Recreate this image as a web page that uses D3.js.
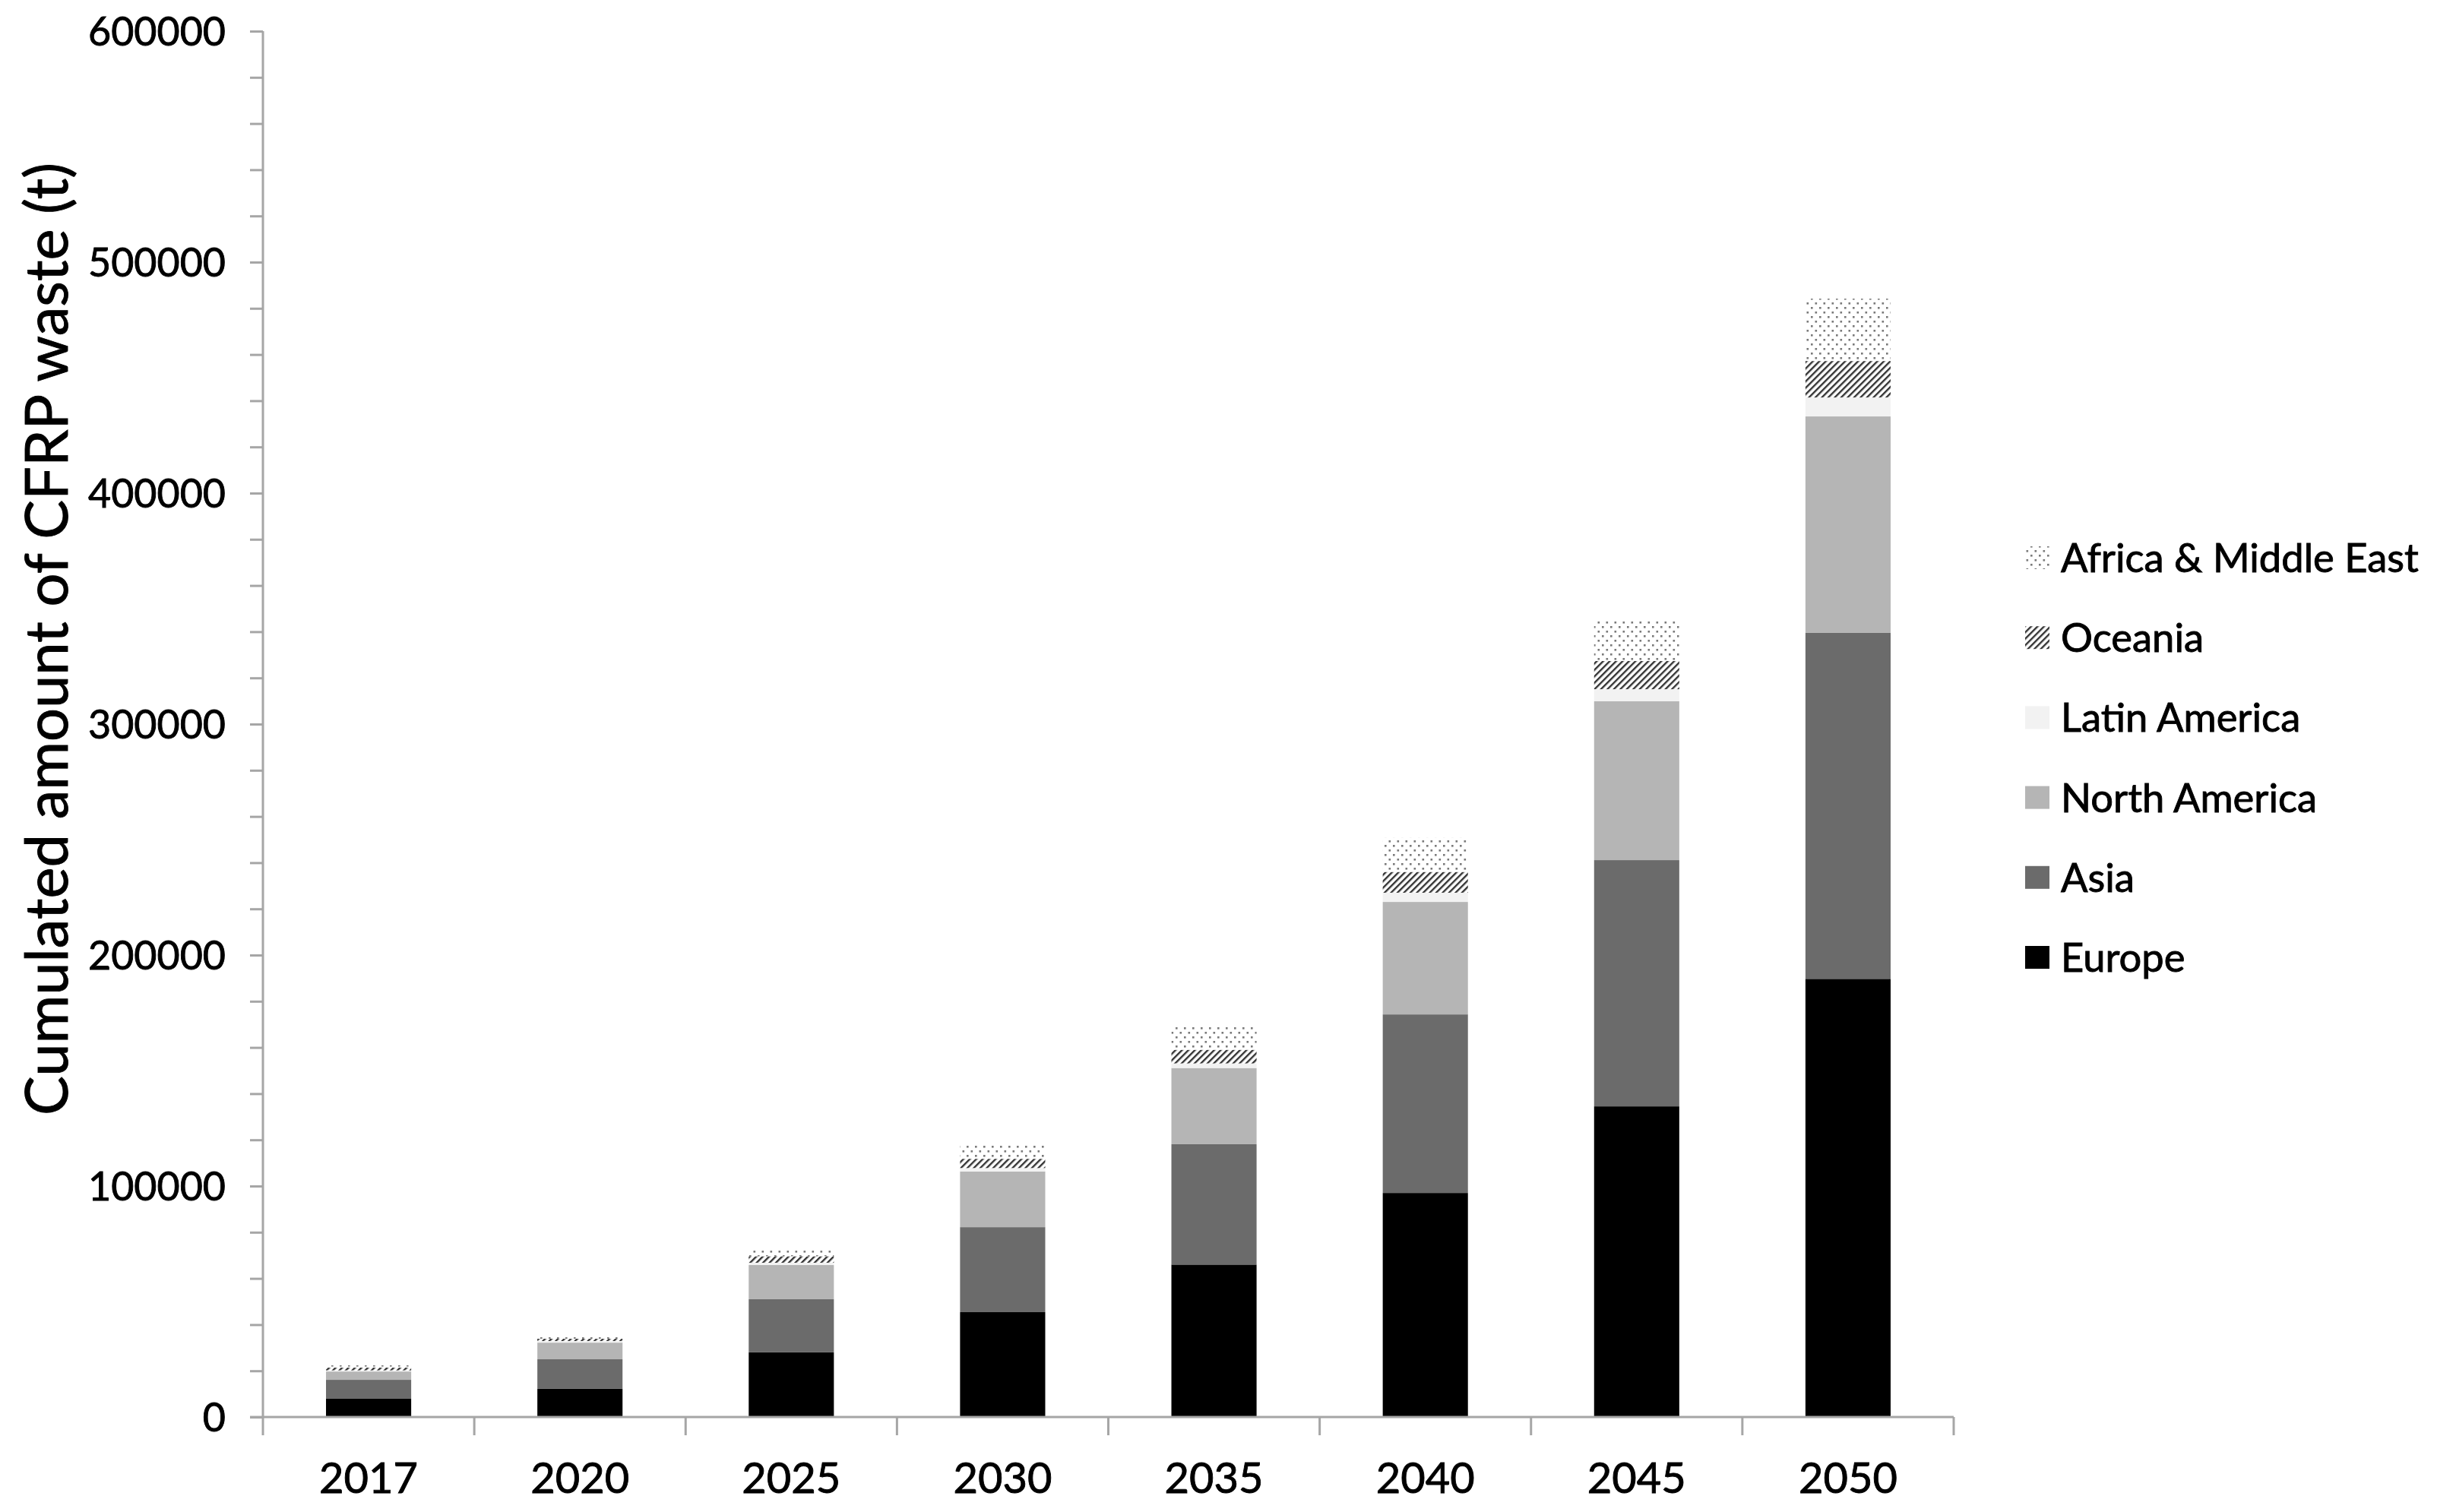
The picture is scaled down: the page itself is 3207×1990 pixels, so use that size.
<!DOCTYPE html>
<html>
<head>
<meta charset="utf-8">
<script src="https://cdn.jsdelivr.net/npm/d3@7"></script>
<style>
  html, body { margin: 0; padding: 0; background: #fff; }
  svg { display: block; font-family: Lato, "Open Sans", sans-serif; }
  svg text { stroke: #000; stroke-width: 0.9px; }
</style>
</head>
<body>
<svg id="chart" width="3207" height="1990"></svg>
<script>
// ---- data ----
const years = ["2017", "2020", "2025", "2030", "2035", "2040", "2045", "2050"];
const regions = ["Europe", "Asia", "North America", "Latin America", "Oceania", "Africa & Middle East"];
const europe       = [7900, 12200, 28000, 45400, 66000, 97000, 134500, 189700];
const asia         = [8200, 12800, 23000, 36800, 52100, 77300, 106600, 149800];
const northAmerica = [3600, 7200, 14800, 24100, 33000, 48700, 68800, 93700];
const latinAmerica = [500, 700, 1000, 1500, 2000, 4000, 5200, 8200];
const oceania      = [1200, 1000, 2800, 4000, 5900, 9000, 12200, 15800];
const africaME     = [1000, 1500, 2800, 6000, 9800, 14700, 17400, 27000];
const yTicks = [0, 100000, 200000, 300000, 400000, 500000, 600000];
const yTitle = "Cumulated amount of CFRP waste (t)";

const seriesValues = [europe, asia, northAmerica, latinAmerica, oceania, africaME];
const rows = years.map((y, i) => {
  const r = { year: y };
  regions.forEach((k, j) => r[k] = seriesValues[j][i]);
  return r;
});

// ---- layout ----
const svg = d3.select("#chart");
const x0 = 346, x1 = 2571, yTop = 41, yBase = 1865;
const x = d3.scaleBand().domain(years).range([x0, x1]).paddingInner(0).paddingOuter(0);
const y = d3.scaleLinear().domain([0, 600000]).range([yBase, yTop]);
const barW = x.bandwidth() * 0.403;

// patterns
const defs = svg.append("defs");
const hatch = defs.append("pattern").attr("id", "hatch")
  .attr("patternUnits", "userSpaceOnUse").attr("width", 6).attr("height", 6)
  .attr("patternTransform", "rotate(45)");
hatch.append("rect").attr("width", 6).attr("height", 6).attr("fill", "#fff");
hatch.append("rect").attr("x", 0).attr("y", 0).attr("width", 2.4).attr("height", 6).attr("fill", "#333");

const dots = defs.append("pattern").attr("id", "dots")
  .attr("patternUnits", "userSpaceOnUse").attr("width", 11).attr("height", 12);
dots.append("rect").attr("width", 11).attr("height", 12).attr("fill", "#fff");
dots.append("rect").attr("x", 1.5).attr("y", 2).attr("width", 2.6).attr("height", 2.6).attr("fill", "#7a7a7a");
dots.append("rect").attr("x", 7).attr("y", 8).attr("width", 2.6).attr("height", 2.6).attr("fill", "#7a7a7a");

const fills = {
  "Europe": "#000000",
  "Asia": "#6b6b6b",
  "North America": "#b5b5b5",
  "Latin America": "#f2f2f2",
  "Oceania": "url(#hatch)",
  "Africa & Middle East": "url(#dots)"
};

// bars
const stack = d3.stack().keys(regions)(rows);
svg.append("g").selectAll("g").data(stack).join("g")
  .attr("fill", d => fills[d.key])
  .selectAll("rect").data(d => d).join("rect")
  .attr("x", d => x(d.data.year) + (x.bandwidth() - barW) / 2)
  .attr("width", barW)
  .attr("y", d => y(d[1]))
  .attr("height", d => y(d[0]) - y(d[1]));

// y axis
const axisColor = "#a6a6a6";
const yAxis = d3.axisLeft(y).tickValues(d3.range(0, 600001, 20000)).tickSize(17).tickFormat("");
const gy = svg.append("g").attr("transform", `translate(${x0},0)`).call(yAxis);
gy.select(".domain").attr("stroke", axisColor).attr("stroke-width", 3).attr("d", `M0,${yTop}V${yBase}`);
gy.selectAll(".tick line").attr("stroke", axisColor).attr("stroke-width", 3);

svg.append("g").selectAll("text").data(yTicks).join("text")
  .attr("x", 297).attr("y", d => y(d)).attr("dy", "0.36em")
  .attr("text-anchor", "end").attr("font-size", 52).attr("fill", "#000")
  .text(d => d);

// x axis
svg.append("line").attr("x1", x0 - 17).attr("x2", x1).attr("y1", yBase).attr("y2", yBase)
  .attr("stroke", axisColor).attr("stroke-width", 3);
const bounds = years.map(d => x(d)).concat([x1]);
svg.append("g").selectAll("line").data(bounds).join("line")
  .attr("x1", d => d).attr("x2", d => d).attr("y1", yBase).attr("y2", yBase + 24)
  .attr("stroke", axisColor).attr("stroke-width", 3);
svg.append("g").selectAll("text").data(years).join("text")
  .attr("x", d => x(d) + x.bandwidth() / 2).attr("y", 1945).attr("dy", "0.36em")
  .attr("text-anchor", "middle").attr("font-size", 56).attr("fill", "#000")
  .text(d => d);

// y title
const yt = svg.append("text")
  .attr("transform", "translate(61,841) rotate(-90)")
  .attr("text-anchor", "middle").attr("dy", "0.36em")
  .attr("font-size", 58).attr("fill", "#000").text(yTitle);
const len = yt.node().getComputedTextLength();
yt.attr("font-size", 58 * 1254 / len);

// legend
const legendOrder = regions.slice().reverse();
const lg = svg.append("g").selectAll("g").data(legendOrder).join("g")
  .attr("transform", (d, i) => `translate(2665,${734 + i * 105.2})`);
lg.append("rect").attr("x", 0).attr("y", -15).attr("width", 32).attr("height", 30)
  .attr("fill", d => fills[d]);
lg.append("text").attr("x", 47).attr("y", 0).attr("dy", "0.36em")
  .attr("font-size", 52.5).attr("fill", "#000").text(d => d);
</script>
</body>
</html>
